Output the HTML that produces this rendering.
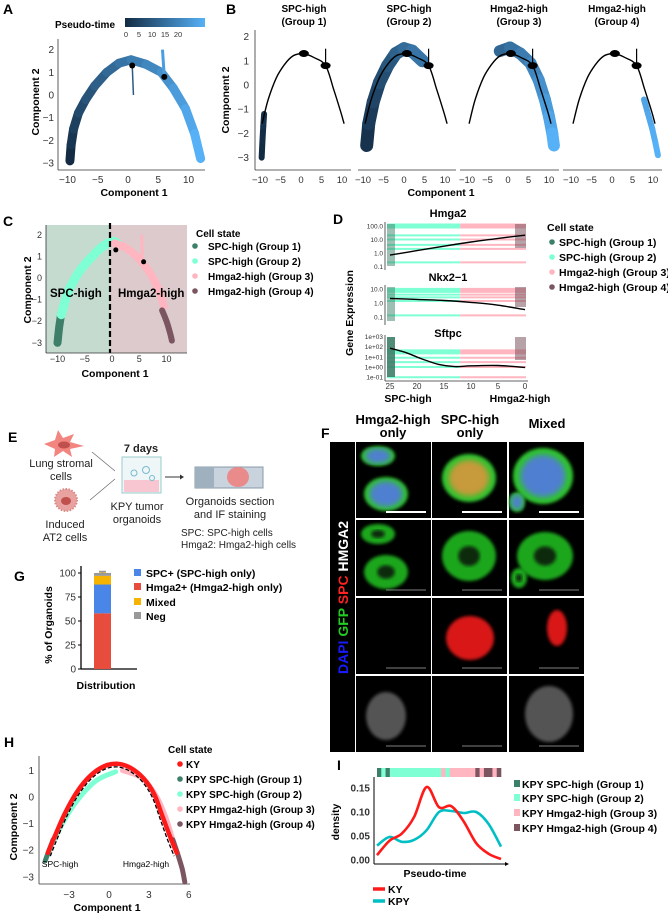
<!DOCTYPE html>
<html><head><meta charset="utf-8">
<style>
html,body{margin:0;padding:0;background:#fff;}
svg{display:block;font-family:"Liberation Sans",Arial,sans-serif;}
.b{font-weight:bold;}
</style></head>
<body>
<svg id="fig" width="668" height="913" viewBox="0 0 668 913" xmlns="http://www.w3.org/2000/svg">
<defs>
<linearGradient id="ptgrad" x1="0" x2="1" y1="0" y2="0"><stop offset="0" stop-color="#132b43"/><stop offset="1" stop-color="#56b1f7"/></linearGradient>
<filter id="blur1"><feGaussianBlur stdDeviation="1.6"/></filter>
<filter id="blur2"><feGaussianBlur stdDeviation="3"/></filter>
</defs>
<rect width="668" height="913" fill="#fff"/>

<!-- panel labels -->
<g class="b" font-size="14">
<text x="3" y="14">A</text><text x="226" y="14">B</text><text x="3" y="226">C</text>
<text x="333" y="224">D</text><text x="8" y="442">E</text><text x="321" y="438">F</text>
<text x="14" y="581">G</text><text x="4" y="747">H</text><text x="337" y="770">I</text>
</g>

<!-- Panel A static -->
<g>
<text x="55" y="28" class="b" font-size="10">Pseudo-time</text>
<rect x="125" y="18" width="80" height="9" fill="url(#ptgrad)"/>
<g id="cbticks" font-size="7.5" text-anchor="middle"></g>
<line x1="58" y1="39" x2="58" y2="170" stroke="#333" stroke-width="0.8"/>
<line x1="58" y1="170" x2="205" y2="170" stroke="#333" stroke-width="0.8"/>
<g id="aplot"></g>
<text x="134" y="196" class="b" font-size="10.5" text-anchor="middle">Component 1</text>
<text transform="translate(39,102) rotate(-90)" class="b" font-size="10.5" text-anchor="middle">Component 2</text>
</g>

<!-- Panel B static -->
<g>
<g class="b" font-size="10" text-anchor="middle">
<text x="304" y="12">SPC-high</text><text x="304" y="25">(Group 1)</text>
<text x="409" y="12">SPC-high</text><text x="409" y="25">(Group 2)</text>
<text x="519" y="12">Hmga2-high</text><text x="519" y="25">(Group 3)</text>
<text x="617" y="12">Hmga2-high</text><text x="617" y="25">(Group 4)</text>
</g>
<line x1="255" y1="30" x2="255" y2="170" stroke="#333" stroke-width="0.8"/>
<g id="bplot"></g>
<text x="441" y="196" class="b" font-size="10.5" text-anchor="middle">Component 1</text>
<text transform="translate(229,100) rotate(-90)" class="b" font-size="10.5" text-anchor="middle">Component 2</text>
</g>

<!-- Panel C static -->
<g>
<rect x="46" y="225" width="64" height="128" fill="#c5dbd0"/>
<rect x="110" y="225" width="77" height="128" fill="#dccacc"/>
<g id="cplot"></g>
<line x1="110" y1="223" x2="110" y2="353" stroke="#000" stroke-width="2.2" stroke-dasharray="6,3"/>
<line x1="46" y1="225" x2="46" y2="353" stroke="#333" stroke-width="0.8"/>
<line x1="46" y1="353" x2="187" y2="353" stroke="#333" stroke-width="0.8"/>
<text x="50" y="297" class="b" font-size="11.5">SPC-high</text>
<text x="118" y="297" class="b" font-size="11.5">Hmga2-high</text>
<text x="115" y="377" class="b" font-size="10.5" text-anchor="middle">Component 1</text>
<text transform="translate(31,290) rotate(-90)" class="b" font-size="10.5" text-anchor="middle">Component 2</text>
<g class="b" font-size="10">
<text x="196" y="237">Cell state</text>
<circle cx="195" cy="246" r="2.8" fill="#3d7f68"/><text x="208" y="250">SPC-high (Group 1)</text>
<circle cx="195" cy="261" r="2.8" fill="#7fffd4"/><text x="208" y="265">SPC-high (Group 2)</text>
<circle cx="195" cy="276" r="2.8" fill="#ffb6c1"/><text x="208" y="280">Hmga2-high (Group 3)</text>
<circle cx="195" cy="291" r="2.8" fill="#7b5560"/><text x="208" y="295">Hmga2-high (Group 4)</text>
</g>
</g>

<!-- Panel D static -->
<g>
<g class="b" font-size="11" text-anchor="middle">
<text x="448" y="217">Hmga2</text>
<text x="448" y="281">Nkx2−1</text>
<text x="448" y="337">Sftpc</text>
</g>
<g id="dplot"></g>
<text x="408" y="402" class="b" font-size="10.5" text-anchor="middle">SPC-high</text>
<text x="520" y="402" class="b" font-size="10.5" text-anchor="middle">Hmga2-high</text>
<text transform="translate(353,313) rotate(-90)" class="b" font-size="10.5" text-anchor="middle">Gene Expression</text>
<g class="b" font-size="10.5">
<text x="547" y="231">Cell state</text>
<circle cx="552" cy="242" r="2.8" fill="#3d7f68"/><text x="559" y="246">SPC-high (Group 1)</text>
<circle cx="552" cy="257" r="2.8" fill="#7fffd4"/><text x="559" y="261">SPC-high (Group 2)</text>
<circle cx="552" cy="272" r="2.8" fill="#ffb6c1"/><text x="559" y="276">Hmga2-high (Group 3)</text>
<circle cx="552" cy="287" r="2.8" fill="#7b5560"/><text x="559" y="291">Hmga2-high (Group 4)</text>
</g>
</g>

<!-- Panel E -->
<g>
<g>
<path d="M44,444 L55,440 L58,430 L63,438 L74,434 L70,442 L84,446 L70,449 L72,457 L63,451 L54,457 L55,449 Z" fill="#f2857f"/>
<ellipse cx="64" cy="445" rx="6" ry="3.5" fill="#c0504d"/>
</g>
<g>
<circle cx="66" cy="500" r="11" fill="#e8a3a0" stroke="#d98a87" stroke-width="2" stroke-dasharray="1.5,1.5"/>
<ellipse cx="66" cy="501" rx="5" ry="4" fill="#c0504d"/>
</g>
<g font-size="11" text-anchor="middle" fill="#222">
<text x="61" y="467">Lung stromal</text><text x="61" y="480">cells</text>
<text x="65" y="528">Induced</text><text x="65" y="541">AT2 cells</text>
<text x="141" y="452" class="b">7 days</text>
<text x="137" y="510">KPY tumor</text><text x="137" y="523">organoids</text>
<text x="230" y="505">Organoids section</text><text x="230" y="518">and IF staining</text>
</g>
<g font-size="10" fill="#222"><text x="181" y="536">SPC: SPC-high cells</text><text x="181" y="548">Hmga2: Hmga2-high cells</text></g>
<line x1="92" y1="452" x2="115" y2="471" stroke="#666" stroke-width="0.7"/>
<line x1="90" y1="500" x2="115" y2="479" stroke="#666" stroke-width="0.7"/>
<g>
<rect x="122" y="457" width="39" height="36" fill="#eef6f8" stroke="#9cc" stroke-width="1"/>
<rect x="124" y="480" width="35" height="12" fill="#f7c6d0"/>
<circle cx="134" cy="473" r="3" fill="none" stroke="#7bc"/><circle cx="146" cy="470" r="3.5" fill="none" stroke="#7bc"/><circle cx="152" cy="478" r="2.5" fill="none" stroke="#7bc"/>
</g>
<line x1="165" y1="477" x2="180" y2="477" stroke="#333" stroke-width="1"/><path d="M180,474.5 L184,477 L180,479.5 Z" fill="#333"/>
<g>
<rect x="195" y="467" width="68" height="21" fill="#c9d3dd" stroke="#8899aa"/>
<rect x="195" y="467" width="19" height="21" fill="#9fb0bf"/>
<ellipse cx="238" cy="477" rx="11" ry="10" fill="#e98b8b"/>
</g>
</g>

<!-- Panel F -->
<g>
<g class="b" font-size="13" text-anchor="middle">
<text x="393" y="424">Hmga2-high</text><text x="393" y="437">only</text>
<text x="470" y="424">SPC-high</text><text x="470" y="437">only</text>
<text x="547" y="428">Mixed</text>
</g>
<rect x="330" y="442" width="25" height="310" fill="#000"/>
<text transform="translate(348,674) rotate(-90)" class="b" font-size="14"><tspan fill="#1a1aff">DAPI </tspan><tspan fill="#22cc22">GFP </tspan><tspan fill="#ff2222">SPC </tspan><tspan fill="#fff">HMGA2</tspan></text>
<g id="fimgs"></g>
</g>

<!-- Panel G -->
<g>
<line x1="81" y1="566" x2="81" y2="669" stroke="#000" stroke-width="1.3"/>
<line x1="81" y1="669" x2="137" y2="669" stroke="#000" stroke-width="1.3"/>
<g id="gplot"></g>
<text transform="translate(52,625) rotate(-90)" class="b" font-size="10.5" text-anchor="middle">% of Organoids</text>
<text x="106" y="689" class="b" font-size="10.5" text-anchor="middle">Distribution</text>
<g class="b" font-size="10.5">
<rect x="134" y="569" width="7" height="7" fill="#4a86e8"/><text x="146" y="577">SPC+ (SPC-high only)</text>
<rect x="134" y="583" width="7" height="7" fill="#e84c3d"/><text x="146" y="591">Hmga2+ (Hmga2-high only)</text>
<rect x="134" y="598" width="7" height="7" fill="#f6b400"/><text x="146" y="606">Mixed</text>
<rect x="134" y="612" width="7" height="7" fill="#999"/><text x="146" y="620">Neg</text>
</g>
</g>

<!-- Panel H -->
<g>
<line x1="39" y1="756" x2="39" y2="884" stroke="#333" stroke-width="0.8"/>
<line x1="39" y1="884" x2="190" y2="884" stroke="#333" stroke-width="0.8"/>
<g id="hplot"></g>
<text x="60" y="867" font-size="8.5" text-anchor="middle">SPC-high</text>
<text x="146" y="867" font-size="8.5" text-anchor="middle">Hmga2-high</text>
<text x="107" y="911" class="b" font-size="10.5" text-anchor="middle">Component 1</text>
<text transform="translate(17,827) rotate(-90)" class="b" font-size="10.5" text-anchor="middle">Component 2</text>
<g class="b" font-size="10">
<text x="168" y="753">Cell state</text>
<circle cx="180" cy="764" r="2.8" fill="#ff1a1a"/><text x="186" y="768">KY</text>
<circle cx="180" cy="779" r="2.8" fill="#3d7f68"/><text x="186" y="783">KPY SPC-high (Group 1)</text>
<circle cx="180" cy="794" r="2.8" fill="#7fffd4"/><text x="186" y="798">KPY SPC-high (Group 2)</text>
<circle cx="180" cy="809" r="2.8" fill="#ffb6c1"/><text x="186" y="813">KPY Hmga2-high (Group 3)</text>
<circle cx="180" cy="824" r="2.8" fill="#7b5560"/><text x="186" y="828">KPY Hmga2-high (Group 4)</text>
</g>
</g>

<!-- Panel I -->
<g>
<g id="iplot"></g>
<line x1="374" y1="777" x2="374" y2="864" stroke="#000" stroke-width="1"/>
<line x1="374" y1="864" x2="505" y2="864" stroke="#000" stroke-width="1"/><path d="M505,862 L509,864 L505,866 Z" fill="#000"/>
<text transform="translate(339,822) rotate(-90)" class="b" font-size="10.5" text-anchor="middle">density</text>
<text x="435" y="877" class="b" font-size="10.5" text-anchor="middle">Pseudo-time</text>
<g class="b" font-size="10.5">
<line x1="373" y1="889" x2="385" y2="889" stroke="#ff1a1a" stroke-width="3.5"/><text x="388" y="893">KY</text>
<line x1="373" y1="901" x2="385" y2="901" stroke="#00bfc4" stroke-width="3.5"/><text x="388" y="905">KPY</text>
</g>
<g class="b" font-size="10.5">
<rect x="514" y="780" width="6" height="7" fill="#3d7f68"/><text x="522" y="788">KPY SPC-high (Group 1)</text>
<rect x="514" y="794" width="6" height="7" fill="#7fffd4"/><text x="522" y="802">KPY SPC-high (Group 2)</text>
<rect x="514" y="809" width="6" height="7" fill="#ffb6c1"/><text x="522" y="817">KPY Hmga2-high (Group 3)</text>
<rect x="514" y="824" width="6" height="7" fill="#7b5560"/><text x="522" y="832">KPY Hmga2-high (Group 4)</text>
</g>
</g>
</svg>

<script>
// ---------------- data ----------------
const cbTicks = [0, 5, 10, 15, 20];
const axTicks1 = [-10, -5, 0, 5, 10];
const axTicks2 = [-3, -2, -1, 0, 1, 2];
const aTrajC1 = [-9.6, -9.4, -9.0, -8.2, -7, -5.5, -3.5, -1.5, 0.5, 3, 5.5, 7.5, 9.5, 11, 12];
const aTrajC2 = [-2.9, -2.2, -1.5, -0.8, -0.2, 0.4, 1.0, 1.4, 1.55, 1.35, 1.0, 0.3, -0.6, -1.7, -2.8];
const bGroupC1 = [[-9.6, -9.4, -9.2, -9.0], [-9.1, -8.6, -7.5, -6, -4, -2, 0, 2, 4.5], [-2, 0.5, 3, 5.5, 7.5, 9, 10, 10.8, 11.2], [7.8, 8.8, 9.8, 10.6, 11.2]];
const bGroupC2 = [[-3.0, -2.3, -1.7, -1.2], [-2.5, -1.6, -0.7, 0.1, 0.8, 1.3, 1.5, 1.4, 1.0], [1.4, 1.55, 1.3, 0.9, 0.2, -0.6, -1.3, -2.0, -2.5], [-0.6, -1.2, -1.8, -2.4, -2.9]];
const prinC1 = [-9.5, -8, -6, -4, -2, 0, 0.7, 3, 6, 8, 9.5, 10.5];
const prinC2 = [-1.6, -0.6, 0.3, 0.85, 1.2, 1.3, 1.3, 1.15, 0.8, -0.2, -1.0, -1.6];
const nodeC1 = [0.7, 6];
const nodeC2 = [1.3, 0.8];
const cGroupC1 = [[-10, -9.7, -9.3], [-9.3, -8, -6, -4, -2, 0, 1], [0.5, 2.5, 4.5, 6.5, 8.5, 9.5], [9.2, 10, 10.6, 11]];
const cGroupC2 = [[-3.0, -2.3, -1.6], [-1.7, -0.6, 0.3, 0.9, 1.4, 1.7, 1.6], [1.6, 1.4, 1.0, 0.4, -0.5, -1.3], [-1.5, -2.0, -2.5, -2.9]];
const stateColors = ['#3d7f68', '#7fffd4', '#ffb6c1', '#7b5560'];
const ptTicks = [25, 20, 15, 10, 5, 0];
const hmga2T = [25, 20, 15, 10, 5, 0];
const hmga2Fit = [0.7, 1.5, 3.2, 6.5, 12, 21];
const nkxT = [25, 20, 15, 10, 5, 0];
const nkxFit = [2.1, 1.8, 1.5, 1.1, 0.7, 0.33];
const sftpcT = [25, 22, 19, 16, 13, 10, 5, 0];
const sftpcFit = [70, 25, 6, 1.8, 1.1, 1.3, 1.4, 0.9];
const hmga2Ticks = ['100.0', '10.0', '1.0', '0.1'];
const nkxTicks = ['10.0', '1.0', '0.1'];
const sftpcTicks = ['1e+03', '1e+02', '1e+01', '1e+00', '1e-01'];
const gCategories = ['Hmga2+', 'SPC+', 'Mixed', 'Neg'];
const gValues = [58, 30, 9, 3];
const gErrors = [4, 3, 3, 1.5];
const gColors = ['#e84c3d', '#4a86e8', '#f6b400', '#999999'];
const gTicks = [0, 25, 50, 75, 100];
const hTicksX = [-3, 0, 3, 6];
const hTicksY = [-3, -2, -1, 0, 1];
const hKyC1 = [-4.6, -4.1, -3.3, -2.4, -1.4, -0.4, 0.6, 1.6, 2.6, 3.4, 4.0, 4.6, 5.1];
const hKyC2 = [-2.1, -1.5, -0.6, 0.2, 0.8, 1.15, 1.25, 1.1, 0.7, 0.1, -0.7, -1.5, -2.1];
const hKpyC1 = [[-4.8, -4.5, -4.2], [-4.2, -3.5, -2.5, -1, 0.5], [1, 2.5, 3.6, 4.3, 4.8], [4.8, 5.2, 5.5, 5.7]];
const hKpyC2 = [[-2.4, -2.0, -1.6], [-1.7, -1.0, -0.2, 0.6, 0.95], [1.0, 0.7, 0.0, -0.8, -1.6], [-1.6, -2.2, -2.7, -3.2]];
const iTicks = [0, 0.05, 0.10, 0.15];
const iKY = [0.01, 0.04, 0.055, 0.09, 0.152, 0.11, 0.112, 0.08, 0.035, 0.013, 0.002];
const iKPY = [0.03, 0.048, 0.038, 0.042, 0.062, 0.1, 0.102, 0.098, 0.1, 0.075, 0.028];
const iStrip = [0, 1, 0, 1, 1, 1, 1, 1, 1, 1, 1, 1, 1, 1, 1, 2, 1, 2, 2, 2, 2, 2, 2, 3, 2, 3, 3, 2, 3];

// ---------------- helpers ----------------
const NS = 'http://www.w3.org/2000/svg';
function mk(tag, attrs, parent) {
  const e = document.createElementNS(NS, tag);
  for (const k in attrs) e.setAttribute(k, attrs[k]);
  parent.appendChild(e);
  return e;
}
function smooth(pts) {
  let d = 'M' + pts[0][0].toFixed(1) + ',' + pts[0][1].toFixed(1);
  for (let i = 0; i < pts.length - 1; i++) {
    const p0 = pts[Math.max(0, i - 1)], p1 = pts[i], p2 = pts[i + 1], p3 = pts[Math.min(pts.length - 1, i + 2)];
    const c1 = [p1[0] + (p2[0] - p0[0]) / 6, p1[1] + (p2[1] - p0[1]) / 6];
    const c2 = [p2[0] - (p3[0] - p1[0]) / 6, p2[1] - (p3[1] - p1[1]) / 6];
    d += 'C' + c1.map(v => v.toFixed(1)).join(',') + ' ' + c2.map(v => v.toFixed(1)).join(',') + ' ' + p2.map(v => v.toFixed(1)).join(',');
  }
  return d;
}
function lerpColor(a, b, t) {
  const pa = [1, 3, 5].map(i => parseInt(a.substr(i, 2), 16)), pb = [1, 3, 5].map(i => parseInt(b.substr(i, 2), 16));
  return 'rgb(' + pa.map((v, i) => Math.round(v + (pb[i] - v) * t)).join(',') + ')';
}
function tickText(parent, x, y, s, anchor, size) {
  const t = mk('text', {x: x, y: y, 'font-size': size || 8.5, 'text-anchor': anchor || 'middle', fill: '#333'}, parent);
  t.textContent = s;
  return t;
}

// ---------------- Panel A ----------------
const cb = document.getElementById('cbticks');
const cbX = v => 126 + v * 2.6;
cbTicks.forEach(v => {
  const t = tickText(cb, cbX(v), 37, String(v), 'middle', 7.5);
  
  
});
const aG = document.getElementById('aplot');
const aX = c => 128 + c * 6.05, aY = c => 95 - c * 22.7;
axTicks1.forEach(v => {
  const t = tickText(aG, aX(v), 183, v < 0 ? '−' + (-v) : String(v), 'middle', 10);
  
  
});
axTicks2.forEach(v => {
  const t = tickText(aG, 54, aY(v) + 3.5, v < 0 ? '−' + (-v) : String(v), 'end', 10);
  
  
});
for (let i = 0; i < aTrajC1.length - 1; i++) {
  const col = lerpColor('#132b43', '#56b1f7', i / (aTrajC1.length - 2));
  const seg = mk('line', {x1: aX(aTrajC1[i]), y1: aY(aTrajC2[i]), x2: aX(aTrajC1[i + 1]), y2: aY(aTrajC2[i + 1]), stroke: col, 'stroke-width': 9, 'stroke-linecap': 'round'}, aG);
  
  
}
const aBranch = mk('line', {x1: aX(6), y1: aY(0.8), x2: aX(5.7), y2: aY(2.0), stroke: '#4a9ee0', 'stroke-width': 3}, aG);


const aStem = mk('line', {x1: aX(0.7), y1: aY(1.3), x2: aX(0.9), y2: aY(0), stroke: '#2a5a86', 'stroke-width': 1.5}, aG);


nodeC1.forEach((c, i) => {
  const n = mk('circle', {cx: aX(c), cy: aY(nodeC2[i]), r: 3, fill: '#000'}, aG);
  
  
});

// ---------------- Panel B ----------------
const bG = document.getElementById('bplot');
const bOrig = [301, 404, 508, 612];
const bSpan = [[255, 351], [358, 456], [460, 559], [563, 662]];
const bY = c => 85 - c * 24.2;
axTicks2.forEach(v => {
  const t = tickText(bG, 249, bY(v) + 3.5, v < 0 ? '−' + (-v) : String(v), 'end', 10);
  
  
});
for (let p = 0; p < 4; p++) {
  const bX = c => bOrig[p] + c * 4.1;
  const ax = mk('line', {x1: bSpan[p][0], y1: 170, x2: bSpan[p][1], y2: 170, stroke: '#333', 'stroke-width': 0.8}, bG);
  
  
  axTicks1.forEach(v => {
    const t = tickText(bG, bX(v), 183, v < 0 ? '−' + (-v) : String(v), 'middle', 9.5);
    
    
  });
  const c1 = bGroupC1[p], c2 = bGroupC2[p];
  const t0 = [0, 0.05, 0.45, 0.9][p], t1 = [0.05, 0.55, 1.0, 1.0][p];
  const w = [6, 13, 12, 6][p];
  for (let i = 0; i < c1.length - 1; i++) {
    const col = lerpColor('#132b43', '#56b1f7', t0 + (t1 - t0) * i / Math.max(1, c1.length - 2));
    const seg = mk('line', {x1: bX(c1[i]), y1: bY(c2[i]), x2: bX(c1[i + 1]), y2: bY(c2[i + 1]), stroke: col, 'stroke-width': w, 'stroke-linecap': 'round'}, bG);
    
    
  }
  const tr = mk('path', {d: smooth(prinC1.map((c, i) => [bX(c), bY(prinC2[i])])), fill: 'none', stroke: '#000', 'stroke-width': 1.4}, bG);
  
  
  const br = mk('line', {x1: bX(6), y1: bY(0.8), x2: bX(6), y2: bY(1.5), stroke: '#000', 'stroke-width': 1.2}, bG);
  
  
  nodeC1.forEach((c, i) => {
    const n = mk('ellipse', {cx: bX(c), cy: bY(nodeC2[i]), rx: 5, ry: 3.5, fill: '#000'}, bG);
    
    
  });
}

// ---------------- Panel C ----------------
const cG = document.getElementById('cplot');
const cX = c => 112 + c * 5.45, cY = c => 278 - c * 21.6;
axTicks1.forEach(v => {
  const t = tickText(cG, cX(v), 362, v < 0 ? '−' + (-v) : String(v), 'middle', 9);
  
  
});
axTicks2.forEach(v => {
  const t = tickText(cG, 42, cY(v) + 3, v < 0 ? '−' + (-v) : String(v), 'end', 9);
  
  
});
cGroupC1.forEach((arr, g) => {
  const p = mk('path', {d: smooth(arr.map((c, i) => [cX(c), cY(cGroupC2[g][i])])), fill: 'none', stroke: stateColors[g], 'stroke-width': [8, 9, 8, 6][g], 'stroke-linecap': 'round'}, cG);
  
  
});
const cBr = mk('line', {x1: cX(5.6), y1: cY(0.8), x2: cX(5.4), y2: cY(2.0), stroke: '#ffb6c1', 'stroke-width': 3}, cG);


[[0.7, 1.3], [5.8, 0.75]].forEach(p => {
  const n = mk('circle', {cx: cX(p[0]), cy: cY(p[1]), r: 2.5, fill: '#000'}, cG);
  
  
});

// ---------------- Panel D ----------------
const dG = document.getElementById('dplot');
const dX = t => 525 - t * 5.4;
const facets = [
  {top: 222, bot: 270, y: v => 253 - Math.log10(v) * 13.5, ticks: hmga2Ticks, tv: [100, 10, 1, 0.1], T: hmga2T, F: hmga2Fit, bands: [100, 20, 10, 4, 2, 0.2]},
  {top: 285, bot: 325, y: v => 303 - Math.log10(v) * 14, ticks: nkxTicks, tv: [10, 1, 0.1], T: nkxT, F: nkxFit, bands: [8, 4, 2.5, 1.4, 0.13]},
  {top: 335, bot: 381, y: v => 367 - Math.log10(v) * 10.2, ticks: sftpcTicks, tv: [1000, 100, 10, 1, 0.1], T: sftpcT, F: sftpcFit, bands: [30, 8, 3, 1, 0.1]}
];
facets.forEach((f, fi) => {
  const ax = mk('line', {x1: 385, y1: f.top, x2: 385, y2: f.bot, stroke: '#333', 'stroke-width': 0.8}, dG);
  
  
  f.ticks.forEach((s, i) => {
    const t = tickText(dG, 383, f.y(f.tv[i]) + 2.5, s, 'end', 6.5);
    
    
  });
  f.bands.forEach((b, bi) => {
    const yy = f.y(b);
    const g1 = mk('line', {x1: 387, y1: yy, x2: dX(12), y2: yy, stroke: '#7fffd4', 'stroke-width': bi === 0 ? 5 : 2}, dG);
    
    
    const g2 = mk('line', {x1: dX(12), y1: yy, x2: 526, y2: yy, stroke: '#ffb6c1', 'stroke-width': bi === 0 ? 5 : 2}, dG);
    
    
  });
  const g1b = mk('rect', {x: 387, y: f.top + 2, width: 8, height: f.bot - f.top - 6, fill: '#3d7f68', opacity: fi === 2 ? 0.9 : 0.5}, dG);
  
  
  const g4b = mk('rect', {x: 515, y: f.top + 2, width: 11, height: (f.bot - f.top) * 0.5, fill: '#7b5560', opacity: 0.55}, dG);
  
  
  const fit = mk('path', {d: smooth(f.T.map((t, i) => [dX(t), f.y(f.F[i])])), fill: 'none', stroke: '#000', 'stroke-width': 1.4}, dG);
  
  
});
const dAx = mk('line', {x1: 385, y1: 381, x2: 528, y2: 381, stroke: '#333', 'stroke-width': 0.8}, dG);


ptTicks.forEach(v => {
  const t = tickText(dG, dX(v), 389, String(v), 'middle', 8);
  
  
});

// ---------------- Panel F (micrographs) ----------------
const fG = document.getElementById('fimgs');
const colX = [356, 432, 509], rowY = [442, 520, 598, 676], cw = 75, rh = 76;
const blobs = [
  [[[22, 14, 17, 10], [30, 52, 22, 17]], [[37, 36, 27, 24]], [[34, 34, 30, 28], [8, 60, 8, 10]]],
  [[[22, 14, 17, 10], [30, 52, 22, 17]], [[37, 36, 27, 25]], [[36, 36, 28, 24], [10, 58, 8, 10]]],
  [[], [[38, 40, 24, 22]], [[48, 30, 10, 18]]],
  [[[30, 40, 20, 24]], [], [[40, 38, 24, 28]]]
];
const rowCols = [null, '#22c422', '#ff1a1a', '#bbbbbb'];
for (let r = 0; r < 4; r++) for (let c = 0; c < 3; c++) {
  const x0 = colX[c], y0 = rowY[r];
  const img = mk('rect', {x: x0, y: y0, width: cw, height: rh, fill: '#000'}, fG);
  
  
  blobs[r][c].forEach(b => {
    if (r === 0) {
      const g = mk('ellipse', {cx: x0 + b[0], cy: y0 + b[1], rx: b[2], ry: b[3], fill: '#2ec22e', filter: 'url(#blur1)'}, fG);
      
      
      const bl = mk('ellipse', {cx: x0 + b[0], cy: y0 + b[1], rx: b[2] * 0.75, ry: b[3] * 0.75, fill: c === 1 ? '#c79a3a' : '#4f7fd0', filter: 'url(#blur2)'}, fG);
      
      
    } else {
      const g = mk('ellipse', {cx: x0 + b[0], cy: y0 + b[1], rx: b[2], ry: b[3], fill: rowCols[r], opacity: r === 3 ? 0.45 : 0.85, filter: 'url(#blur1)'}, fG);
      
      
      if (r === 1) {
        const h = mk('ellipse', {cx: x0 + b[0], cy: y0 + b[1], rx: b[2] * 0.4, ry: b[3] * 0.4, fill: '#0a2a0a', filter: 'url(#blur1)'}, fG);
        
        
      }
    }
  });
  const sb = mk('line', {x1: x0 + 30, y1: y0 + rh - 6, x2: x0 + 70, y2: y0 + rh - 6, stroke: r === 0 ? '#fff' : '#aaa', 'stroke-width': r === 0 ? 2 : 0.7}, fG);
  
  
}

// ---------------- Panel G ----------------
const gG = document.getElementById('gplot');
const gY = v => 669 - v * 0.96;
gTicks.forEach(v => {
  const t = tickText(gG, 76, gY(v) + 3.5, String(v), 'end', 10);
  
  
  const tk = mk('line', {x1: 78, y1: gY(v), x2: 81, y2: gY(v), stroke: '#000'}, gG);
  
  
});
let cum = 0;
gValues.forEach((v, i) => {
  const seg = mk('rect', {x: 94, y: gY(cum + v), width: 17, height: v * 0.96, fill: gColors[i]}, gG);
  
  
  cum += v;
  const eb = mk('path', {d: 'M102.5,' + gY(cum) + 'V' + gY(cum + gErrors[i]) + 'M99,' + gY(cum + gErrors[i]) + 'H106', stroke: gColors[i], 'stroke-width': 1.5, fill: 'none'}, gG);
  
  
});

// ---------------- Panel H ----------------
const hG = document.getElementById('hplot');
const hX = c => 109 + c * 13.3, hY = c => 797 - c * 26.6;
hTicksX.forEach(v => {
  const t = tickText(hG, hX(v), 898, v < 0 ? '−' + (-v) : String(v), 'middle', 10);
  
  
});
hTicksY.forEach(v => {
  const t = tickText(hG, 34, hY(v) + 3.5, v < 0 ? '−' + (-v) : String(v), 'end', 10);
  
  
});
hKpyC1.forEach((arr, g) => {
  const p = mk('path', {d: smooth(arr.map((c, i) => [hX(c), hY(hKpyC2[g][i])])), fill: 'none', stroke: stateColors[g], 'stroke-width': 5, 'stroke-linecap': 'round'}, hG);
  
  
});
const hPrin = mk('path', {d: smooth(hKyC1.map((c, i) => [hX(c * 0.96), hY(hKyC2[i] - 0.12)])), fill: 'none', stroke: '#000', 'stroke-width': 1.3, 'stroke-dasharray': '4,2'}, hG);


const hKy = mk('path', {d: smooth(hKyC1.map((c, i) => [hX(c), hY(hKyC2[i])])), fill: 'none', stroke: '#ff1a1a', 'stroke-width': 4.5, 'stroke-linecap': 'round'}, hG);



// ---------------- Panel I ----------------
const iG = document.getElementById('iplot');
const iX = i => 377 + i * (124 / (iKY.length - 1)), iY = d => 860 - d * 480;
const sw = 124 / iStrip.length;
iStrip.forEach((s, i) => {
  const r = mk('rect', {x: 377 + i * sw, y: 768, width: sw + 0.3, height: 9, fill: stateColors[s]}, iG);
  
  
});
iTicks.forEach(v => {
  const t = tickText(iG, 370, iY(v) + 3.5, v.toFixed(2), 'end', 10);
  t.setAttribute('class', 'b');
  
  
});
const kpy = mk('path', {d: smooth(iKPY.map((d, i) => [iX(i), iY(d)])), fill: 'none', stroke: '#00bfc4', 'stroke-width': 2.6}, iG);


const ky = mk('path', {d: smooth(iKY.map((d, i) => [iX(i), iY(d)])), fill: 'none', stroke: '#ff1a1a', 'stroke-width': 2.6}, iG);


</script>
</body></html>
